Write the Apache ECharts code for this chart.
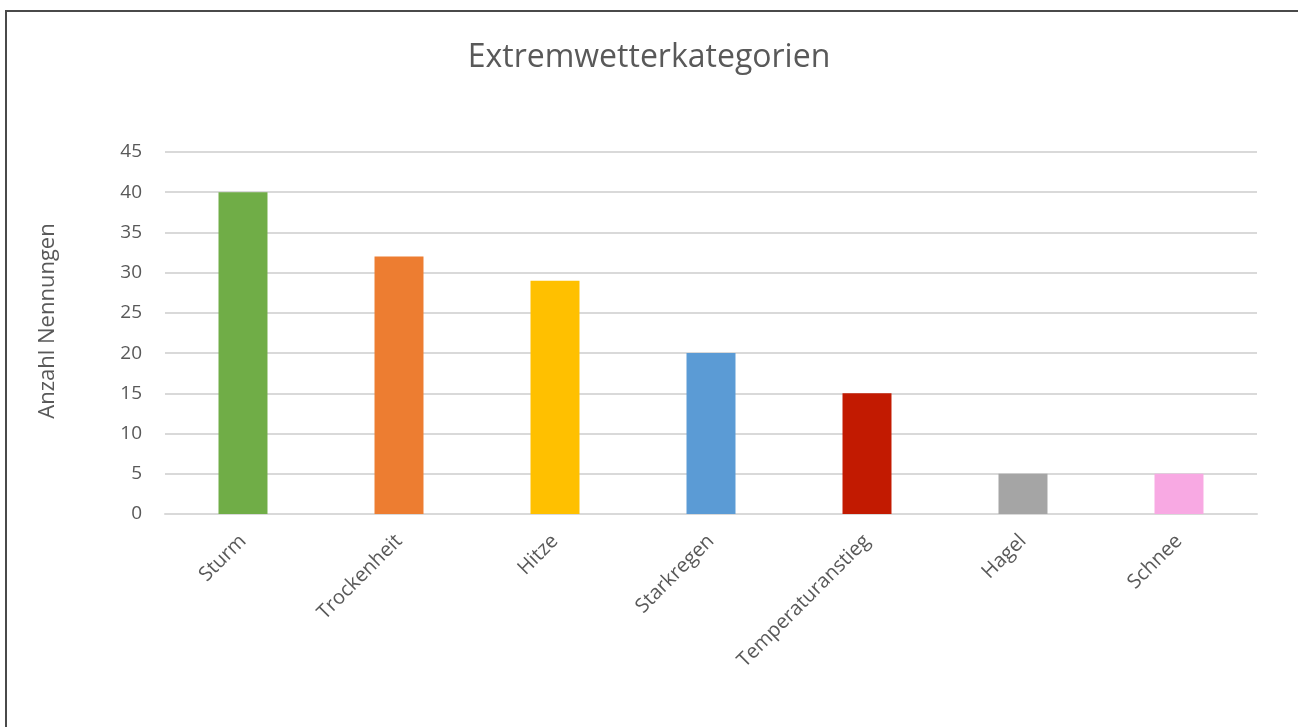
<!DOCTYPE html>
<html>
<head>
<meta charset="utf-8">
<script src="https://cdn.jsdelivr.net/npm/echarts@6/dist/echarts.min.js"></script>
<style>
html,body{margin:0;padding:0;background:#fff;overflow:hidden;}
#frame{position:absolute;left:5px;top:10px;width:1300px;height:730px;border:2px solid #4a4a4a;box-sizing:border-box;}
#chart{position:absolute;left:0;top:0;width:1298px;height:727px;}
</style>
</head>
<body>
<div id="frame"></div>
<div id="chart"></div>
<script>
const titleText = 'Extremwetterkategorien';
const yAxisName = 'Anzahl Nennungen';
const categories = ['Sturm','Trockenheit','Hitze','Starkregen','Temperaturanstieg','Hagel','Schnee'];
const values = [40, 32, 29, 20, 15, 5, 5];
const barColors = ['#70AD47','#ED7D31','#FFC000','#5B9BD5','#C21A01','#A5A5A5','#F8A9E3'];
const yMin = 0, yMax = 45, yStep = 5;

const chart = echarts.init(document.getElementById('chart'), null, {renderer:'canvas'});
const font = '"Open Sans", "Noto Sans", sans-serif';
chart.setOption({
  backgroundColor: 'transparent',
  animation: false,
  title: {
    text: titleText, left: 'center', top: 37,
    textStyle: {fontFamily: font, fontSize: 32, fontWeight: 'normal', color: '#595959'}
  },
  grid: {left: 165, right: 41, top: 152, bottom: 213, containLabel: false},
  xAxis: {
    type: 'category', data: categories,
    axisLine: {show: true, lineStyle: {color: '#D9D9D9', width: 2}},
    axisTick: {show: false},
    axisLabel: {rotate: 45, margin: 24, fontFamily: font, fontSize: 20, color: '#595959', interval: 0}
  },
  yAxis: {
    type: 'value', min: yMin, max: yMax, interval: yStep,
    name: yAxisName, nameLocation: 'middle', nameGap: 106, nameRotate: 90,
    nameTextStyle: {fontFamily: font, fontSize: 22, color: '#595959', padding: [0, 0, 0, 24]},
    axisLine: {show: false}, axisTick: {show: false},
    axisLabel: {margin: 23, fontFamily: font, fontSize: 19, color: '#595959'},
    splitLine: {lineStyle: {color: '#D9D9D9', width: 2}}
  },
  series: [{
    type: 'bar', barWidth: '31.4%',
    data: values.map((v, i) => ({value: v, itemStyle: {color: barColors[i]}}))
  }]
});
</script>
</body>
</html>
